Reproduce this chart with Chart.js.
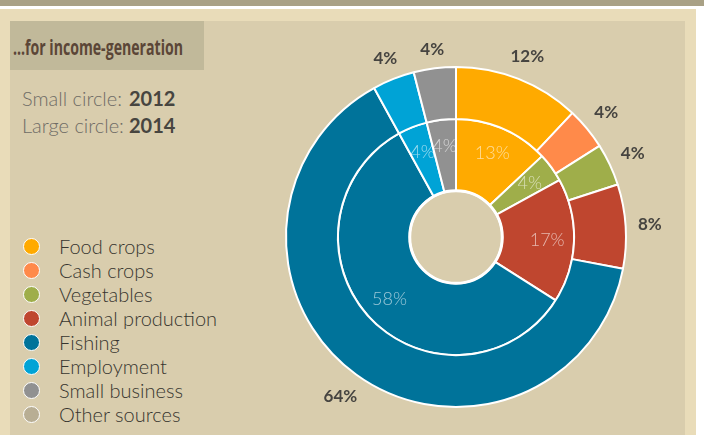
<!DOCTYPE html>
<html>
<head>
<meta charset="utf-8">
<script src="https://cdn.jsdelivr.net/npm/chart.js@4.4.1/dist/chart.umd.min.js"></script>
<style>
  html, body { margin: 0; padding: 0; }
  body {
    width: 704px; height: 435px; position: relative; overflow: hidden;
    background: #fff; font-family: Lato, "Open Sans", sans-serif;
  }
  .band { position: absolute; left: 0; top: 0; width: 704px; height: 6px; background: #a9a186; }
  .frame { position: absolute; left: 0; top: 9px; width: 696px; height: 426px; background: #e9dcb9; }
  .panel { position: absolute; left: 10px; top: 21px; width: 675px; height: 414px; background: #d9cdad; }
  .title {
    position: absolute; left: 10px; top: 21px; width: 194px; height: 49px; background: #c1b99a;
  }
  .title span {
    position: absolute; left: 3px; top: 12px; white-space: nowrap;
    font-family: "Liberation Sans Narrow", "Open Sans", sans-serif; font-weight: bold;
    font-size: 22px; line-height: 26px; color: #5b4637; transform-origin: 0 0;
  }
  .years { position: absolute; left: 22px; top: 85px; font-size: 20px; line-height: 27px; font-weight: 300; color: #6f6c66; }
  .years div { position: relative; height: 27px; white-space: nowrap; }
  .years b { position: absolute; left: 107px; top: 0; font-weight: 700; color: #474540; }
  #legend { position: absolute; left: 22px; top: 234px; }
  .item { position: relative; height: 24px; font-size: 20px; line-height: 24px; font-weight: 300; color: #37352f; }
  .item i {
    position: absolute; left: 1px; top: 4px; width: 15px; height: 15px; border-radius: 50%;
    border: 1.5px solid #fff;
  }
  .item span { position: absolute; left: 37px; top: 0; white-space: nowrap; }
  #wrap { position: absolute; left: 246px; top: 20px; width: 421px; height: 415px; }
</style>
</head>
<body>
<div class="band"></div>
<div class="frame"></div>
<div class="panel"></div>
<div class="title"><span id="title">...for income-generation</span></div>
<div class="years">
  <div>Small circle: <b>2012</b></div>
  <div>Large circle: <b>2014</b></div>
</div>
<div id="legend"></div>
<div id="wrap"><canvas id="rings"></canvas></div>

<script>
// income sources and their shares (%), outer ring = 2014, inner ring = 2012
const categories = ["Food crops", "Cash crops", "Vegetables", "Animal production",
  "Fishing", "Employment", "Small business", "Other sources"];
const colors = ["#ffaa00", "#ff8a4a", "#9fae4a", "#bf462f",
  "#00739a", "#00a3d6", "#919191", "#b8ae94"];
const share2014 = [12, 4, 4, 8, 64, 4, 4, 0];
const share2012 = [13, 0, 4, 17, 58, 4, 4, 0];

// squeeze the heading into its box
const title = document.getElementById("title");
title.style.transform = `scaleX(${170 / title.offsetWidth})`;

const legend = document.getElementById("legend");
categories.forEach((name, i) => {
  const row = document.createElement("div");
  row.className = "item";
  row.innerHTML = `<i style="background:${colors[i]}"></i><span>${name}</span>`;
  legend.appendChild(row);
});

// percent labels: bold outside the large ring, faint inside the small ring
const ringLabels = {
  id: "ringLabels",
  afterDatasetsDraw(chart) {
    const ctx = chart.ctx;
    ctx.save();
    ctx.textAlign = "center";
    ctx.textBaseline = "middle";
    chart.data.datasets.forEach((ds, di) => {
      const meta = chart.getDatasetMeta(di);
      meta.data.forEach((arc, i) => {
        const v = ds.data[i];
        if (!v) return;
        const p = arc.getProps(["x", "y", "startAngle", "endAngle", "innerRadius", "outerRadius"], true);
        const mid = (p.startAngle + p.endAngle) / 2;
        const text = v + "%";
        let r;
        if (di === 0) {
          ctx.font = "bold 17px Lato";
          ctx.fillStyle = "#464440";
          // keep the text box clear of the ring whatever the direction
          const halfW = ctx.measureText(text).width / 2;
          r = p.outerRadius + 12 + Math.abs(Math.cos(mid)) * halfW + Math.abs(Math.sin(mid)) * 6;
        } else {
          ctx.font = "300 18px Lato";
          ctx.fillStyle = "rgba(255,255,255,0.6)";
          r = (p.innerRadius + p.outerRadius) / 2 + 9;
        }
        ctx.fillText(text, p.x + Math.cos(mid) * r, p.y + Math.sin(mid) * r);
      });
    });
    // white rim round the hole
    const inner = chart.getDatasetMeta(1).data[0];
    if (inner) {
      ctx.beginPath();
      ctx.arc(inner.x, inner.y, inner.innerRadius, 0, Math.PI * 2);
      ctx.strokeStyle = "#fff";
      ctx.lineWidth = 3;
      ctx.stroke();
    }
    ctx.restore();
  }
};

new Chart(document.getElementById("rings"), {
  type: "doughnut",
  data: {
    labels: categories,
    datasets: [
      { label: "2014", data: share2014, backgroundColor: colors, borderColor: "#fff", borderWidth: 2, weight: 52 },
      { label: "2012", data: share2012, backgroundColor: colors, borderColor: "#fff", borderWidth: 2, weight: 72 }
    ]
  },
  options: {
    responsive: true,
    maintainAspectRatio: false,
    animation: false,
    radius: 170,
    cutout: 46,
    layout: { padding: { left: 40, right: 41, top: 47, bottom: 28 } },
    plugins: {
      legend: { display: false },
      tooltip: { enabled: false }
    }
  },
  plugins: [ringLabels]
});
</script>
</body>
</html>
